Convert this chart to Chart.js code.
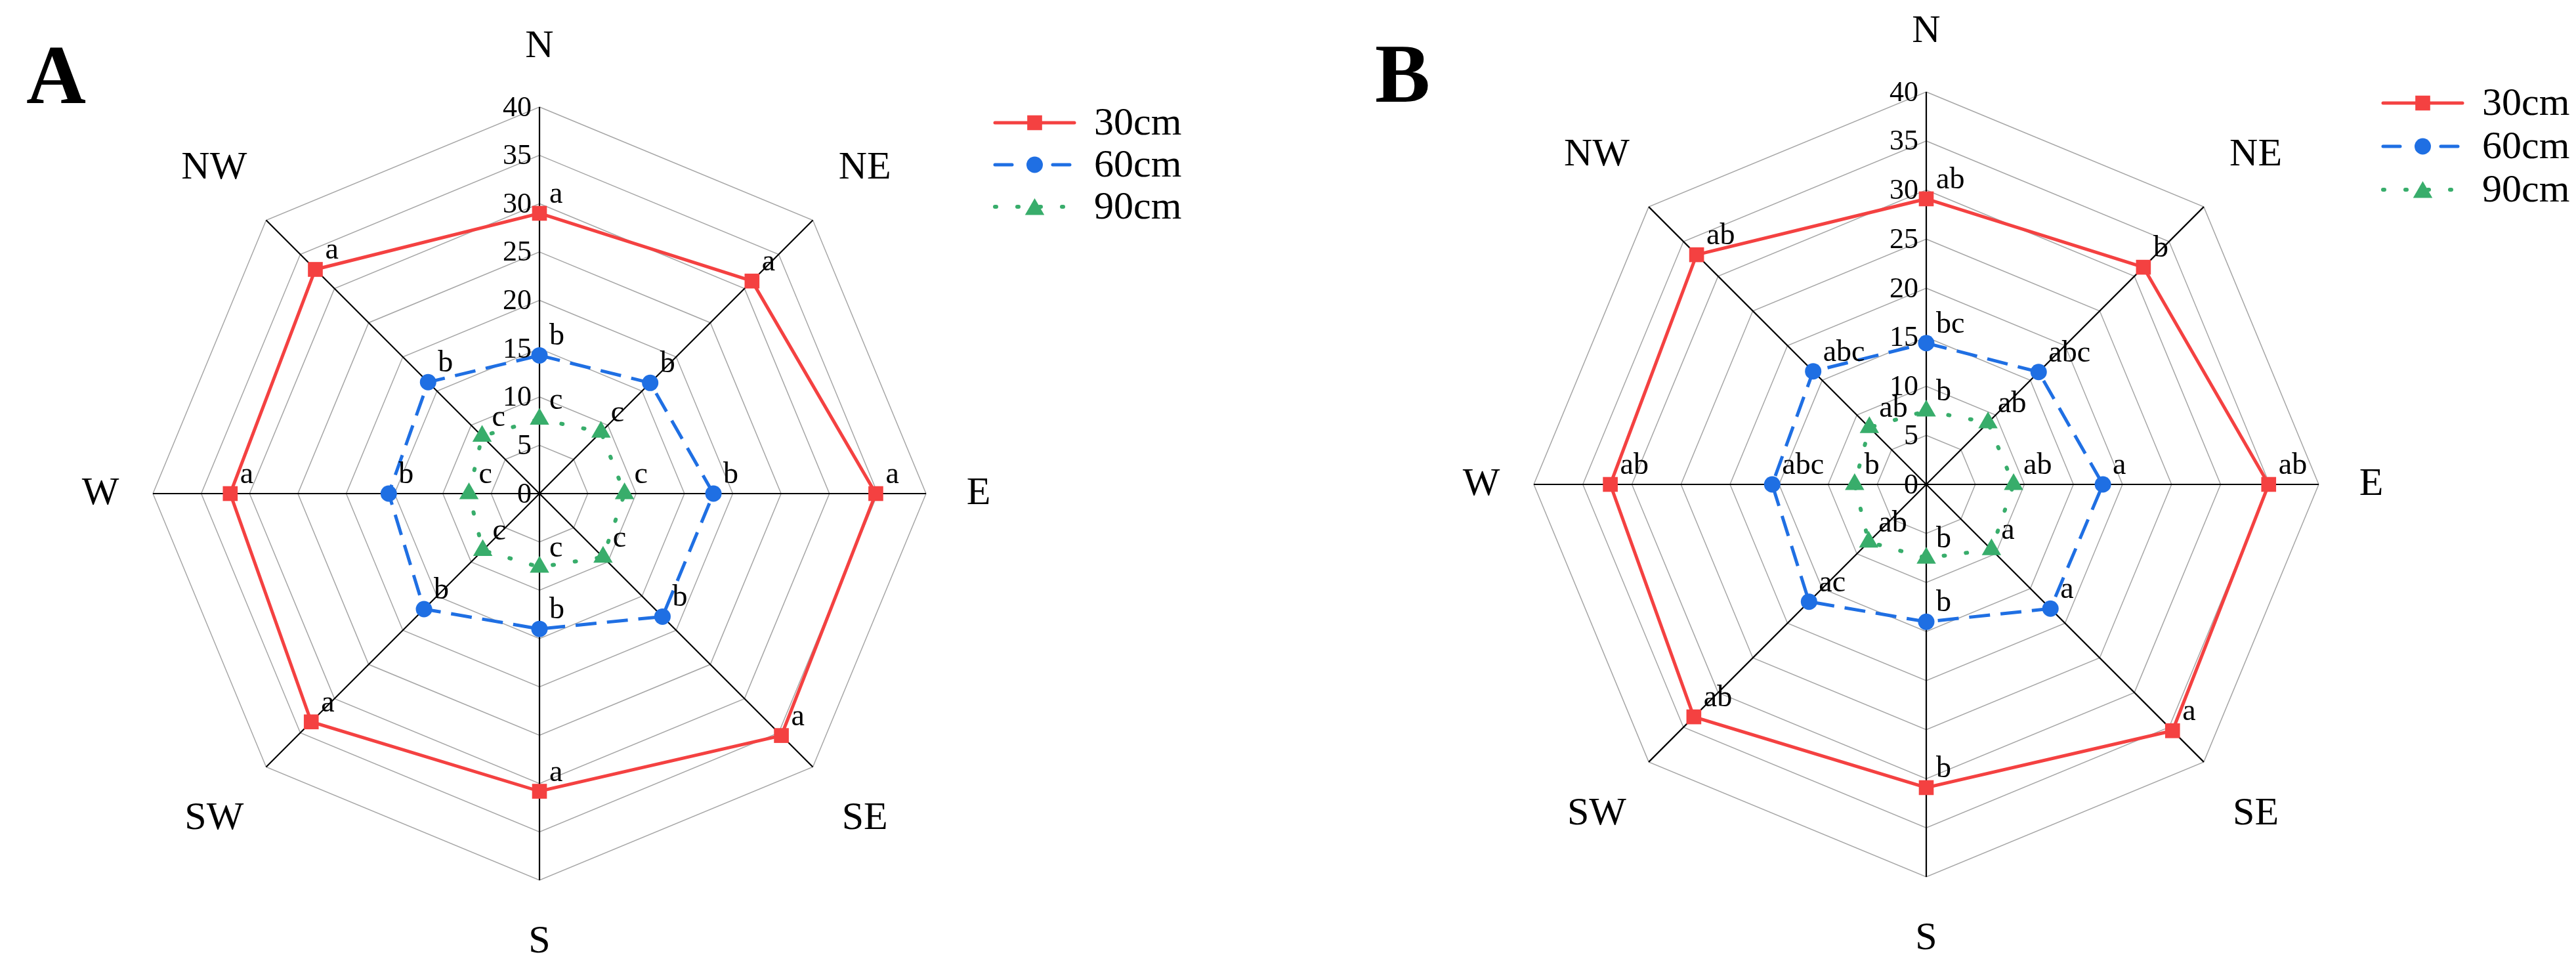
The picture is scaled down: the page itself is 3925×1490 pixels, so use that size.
<!DOCTYPE html>
<html>
<head>
<meta charset="utf-8">
<script src="https://cdn.jsdelivr.net/npm/chart.js@4.4.1/dist/chart.umd.min.js"></script>
<style>
  html, body { margin: 0; padding: 0; background: #fff; }
  body { width: 3925px; height: 1490px; position: relative; overflow: hidden; }
  canvas { position: absolute; top: 0; }
  #chartA { left: 0; }
  #chartB { left: 1960px; }
</style>
</head>
<body>
<canvas id="chartA" width="1960" height="1490"></canvas>
<canvas id="chartB" width="1965" height="1490"></canvas>
<script>
const directions = ['N', 'NE', 'E', 'SE', 'S', 'SW', 'W', 'NW'];
const seriesNames = ['30cm', '60cm', '90cm'];
const tickValues = [0, 5, 10, 15, 20, 25, 30, 35, 40];

// panel A
const a30 = [29.0, 31.1, 34.8, 35.4, 30.8, 33.4, 32.0, 32.8];
const a60 = [14.3, 16.2, 18.0, 18.0, 14.0, 16.9, 15.6, 16.3];
const a90 = [7.7, 9.0, 8.8, 9.3, 7.6, 8.3, 7.3, 8.4];
const aLetters30 = ['a', 'a', 'a', 'a', 'a', 'a', 'a', 'a'];
const aLetters60 = ['b', 'b', 'b', 'b', 'b', 'b', 'b', 'b'];
const aLetters90 = ['c', 'c', 'c', 'c', 'c', 'c', 'c', 'c'];

// panel B
const b30 = [29.1, 31.3, 34.9, 35.5, 30.9, 33.5, 32.2, 33.1];
const b60 = [14.4, 16.2, 18.0, 17.9, 14.0, 16.9, 15.7, 16.3];
const b90 = [7.5, 8.9, 8.9, 9.4, 7.5, 8.3, 7.3, 8.2];
const bLetters30 = ['ab', 'b', 'ab', 'a', 'b', 'ab', 'ab', 'ab'];
const bLetters60 = ['bc', 'abc', 'a', 'a', 'b', 'ac', 'abc', 'abc'];
const bLetters90 = ['b', 'ab', 'ab', 'a', 'b', 'ab', 'b', 'ab'];

const SERIF = "'Liberation Serif', 'Times New Roman', serif";
const RED = '#f44141';
const BLUE = '#1f6fe3';
const GREEN = '#38ad6b';

const styles = [
    { color: RED, dash: [], cap: 'butt', width: 5, point: 'rect', radius: 16 },
    { color: BLUE, dash: [32, 16], cap: 'butt', width: 5, point: 'circle', radius: 12.5 },
    { color: GREEN, dash: [2, 32], cap: 'round', width: 6, point: 'triangle', radius: 17 }
];

function drawMarker(ctx, type, x, y, r, color) {
    ctx.save();
    ctx.fillStyle = color;
    ctx.beginPath();
    if (type === 'rect') {
        const s = r * Math.SQRT1_2;
        ctx.rect(x - s, y - s, 2 * s, 2 * s);
    } else if (type === 'circle') {
        ctx.arc(x, y, r, 0, Math.PI * 2);
    } else {
        ctx.moveTo(x, y - r);
        ctx.lineTo(x + r * Math.sin(Math.PI / 3), y + r / 2);
        ctx.lineTo(x - r * Math.sin(Math.PI / 3), y + r / 2);
        ctx.closePath();
    }
    ctx.fill();
    ctx.restore();
}

const labelPlugin = {
    id: 'panelText',
    afterDraw(chart, args, opts) {
        const ctx = chart.ctx;
        const scale = chart.scales.r;
        ctx.save();

        // tick labels left of the north axis
        ctx.font = '44px ' + SERIF;
        ctx.fillStyle = '#000';
        ctx.textAlign = 'right';
        ctx.textBaseline = 'middle';
        tickValues.forEach(v => {
            const d = scale.getDistanceFromCenterForValue(v);
            ctx.fillText(String(v), scale.xCenter - 12, scale.yCenter - d + 2);
        });

        // direction labels
        const extra = [92, 112, 80, 112, 94, 112, 80, 112];
        ctx.font = '60px ' + SERIF;
        ctx.textAlign = 'center';
        ctx.textBaseline = 'middle';
        directions.forEach((name, i) => {
            const p = scale.getPointPosition(i, scale.drawingArea + extra[i]);
            ctx.fillText(name, p.x, p.y);
        });

        // significance letters next to every point
        ctx.font = '46px ' + SERIF;
        ctx.textAlign = 'left';
        ctx.textBaseline = 'alphabetic';
        chart.data.datasets.forEach((ds, di) => {
            const meta = chart.getDatasetMeta(di);
            meta.data.forEach((pt, i) => {
                ctx.fillText(opts.letters[di][i], pt.x + 15, pt.y - 16);
            });
        });

        // panel letter
        ctx.font = 'bold 126px ' + SERIF;
        ctx.fillText(opts.panel, opts.panelX, opts.panelY);

        // legend
        chart.data.datasets.forEach((ds, di) => {
            const st = styles[di];
            const y = opts.legendY + di * opts.legendGap;
            const x0 = opts.legendX, x1 = opts.legendX + 121;
            ctx.save();
            ctx.strokeStyle = st.color;
            ctx.lineWidth = st.width;
            ctx.lineCap = di === 0 ? 'round' : 'round';
            ctx.setLineDash(di === 1 ? [26, 30, 2, 30] : st.dash);
            ctx.beginPath();
            ctx.moveTo(x0, y);
            ctx.lineTo(x1, y);
            ctx.stroke();
            ctx.restore();
            drawMarker(ctx, st.point, (x0 + x1) / 2, y + (di === 2 ? 4 : 0), st.radius, st.color);
            ctx.font = '60px ' + SERIF;
            ctx.fillStyle = '#000';
            ctx.textBaseline = 'middle';
            ctx.textAlign = 'left';
            ctx.fillText(ds.label, opts.legendX + 151, y + 2);
        });

        ctx.restore();
    }
};

function buildChart(canvasId, values, letters, layoutPadding, panelOpts) {
    const datasets = values.map((vals, i) => ({
        label: seriesNames[i],
        data: vals,
        borderColor: styles[i].color,
        backgroundColor: styles[i].color,
        borderWidth: styles[i].width,
        borderDash: styles[i].dash,
        borderCapStyle: styles[i].cap,
        pointStyle: styles[i].point,
        pointRadius: styles[i].radius,
        pointBackgroundColor: styles[i].color,
        pointBorderColor: styles[i].color,
        pointBorderWidth: 0,
        fill: false,
        tension: 0
    }));

    return new Chart(document.getElementById(canvasId), {
        type: 'radar',
        data: { labels: directions, datasets: datasets },
        options: {
            responsive: false,
            animation: false,
            devicePixelRatio: 1,
            layout: { padding: layoutPadding },
            scales: {
                r: {
                    min: 0,
                    max: 40,
                    ticks: { stepSize: 5, display: false },
                    grid: { color: '#a6a6a6', lineWidth: 1.5 },
                    angleLines: { color: '#000', lineWidth: 2.2 },
                    pointLabels: { display: false }
                }
            },
            plugins: {
                legend: { display: false },
                tooltip: { enabled: false },
                panelText: Object.assign({ letters: letters }, panelOpts)
            }
        },
        plugins: [labelPlugin]
    });
}

buildChart('chartA', [a30, a60, a90], [aLetters30, aLetters60, aLetters90],
    { left: 233, top: 163, right: 549, bottom: 149 },
    { panel: 'A', panelX: 40, panelY: 157, legendX: 1516, legendY: 187, legendGap: 64 });

buildChart('chartB', [b30, b60, b90], [bLetters30, bLetters60, bLetters90],
    { left: 377, top: 140, right: 392, bottom: 154 },
    { panel: 'B', panelX: 135, panelY: 155, legendX: 1671, legendY: 157, legendGap: 66 });
</script>
</body>
</html>
